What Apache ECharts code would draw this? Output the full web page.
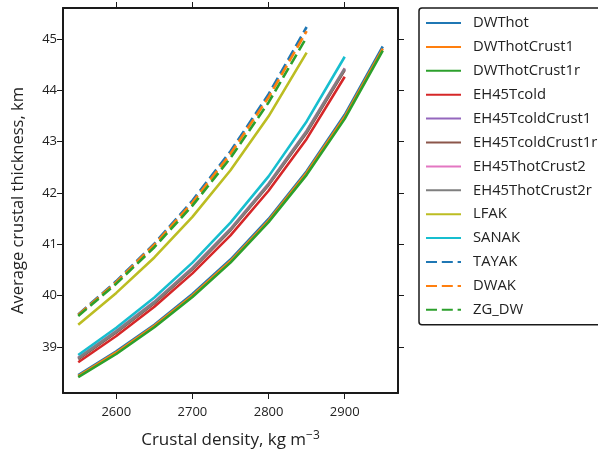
<!DOCTYPE html>
<html>
<head>
<meta charset="utf-8">
<script src="https://cdn.jsdelivr.net/npm/echarts@6/dist/echarts.min.js"></script>
<style>html,body{margin:0;padding:0;background:#fff}#c{width:598px;height:454px}</style>
</head>
<body>
<div id="c"></div>
<script>
// ---- data ----
var dens9 = [2550, 2600, 2650, 2700, 2750, 2800, 2850, 2900, 2950];
var dens8 = [2550, 2600, 2650, 2700, 2750, 2800, 2850, 2900];
var dens7 = [2550, 2600, 2650, 2700, 2750, 2800, 2850];

var DWThot          = [38.45, 38.91, 39.43, 40.03, 40.70, 41.49, 42.42, 43.52, 44.85];
var DWThotCrust1    = [38.43, 38.89, 39.41, 40.00, 40.67, 41.46, 42.39, 43.48, 44.81];
var DWThotCrust1r   = [38.41, 38.86, 39.38, 39.97, 40.64, 41.43, 42.35, 43.44, 44.77];
var EH45Tcold       = [38.70, 39.21, 39.78, 40.43, 41.17, 42.04, 43.05, 44.26];
var EH45TcoldCrust1 = [38.77, 39.29, 39.86, 40.52, 41.28, 42.16, 43.18, 44.40];
var EH45TcoldCrust1r= [38.76, 39.28, 39.85, 40.51, 41.27, 42.15, 43.17, 44.39];
var EH45ThotCrust2  = [38.79, 39.31, 39.88, 40.54, 41.30, 42.18, 43.21, 44.43];
var EH45ThotCrust2r = [38.78, 39.30, 39.87, 40.53, 41.29, 42.17, 43.20, 44.42];
var LFAK            = [39.43, 40.05, 40.74, 41.53, 42.44, 43.49, 44.73];
var SANAK           = [38.84, 39.37, 39.96, 40.64, 41.42, 42.32, 43.39, 44.65];
var TAYAK           = [39.63, 40.28, 41.01, 41.85, 42.81, 43.92, 45.23];
var DWAK            = [39.62, 40.26, 40.99, 41.81, 42.76, 43.86, 45.15];
var ZG_DW           = [39.60, 40.23, 40.94, 41.75, 42.68, 43.76, 45.03];

var xTicks = [2600, 2700, 2800, 2900];
var yTicks = [39, 40, 41, 42, 43, 44, 45];

var seriesNames = ['DWThot','DWThotCrust1','DWThotCrust1r','EH45Tcold','EH45TcoldCrust1',
  'EH45TcoldCrust1r','EH45ThotCrust2','EH45ThotCrust2r','LFAK','SANAK','TAYAK','DWAK','ZG_DW'];
var seriesVals = [DWThot, DWThotCrust1, DWThotCrust1r, EH45Tcold, EH45TcoldCrust1,
  EH45TcoldCrust1r, EH45ThotCrust2, EH45ThotCrust2r, LFAK, SANAK, TAYAK, DWAK, ZG_DW];
var seriesX = [dens9, dens9, dens9, dens8, dens8, dens8, dens8, dens8, dens7, dens8, dens7, dens7, dens7];
var colors = ['#1f77b4','#ff7f0e','#2ca02c','#d62728','#9467bd','#8c564b','#e377c2','#7f7f7f',
  '#bcbd22','#17becf','#1f77b4','#ff7f0e','#2ca02c'];
var dashed = [false,false,false,false,false,false,false,false,false,false,true,true,true];

var FONT = 'Open Sans';
var xMin = 2530, xMax = 2970, yMin = 38.1, yMax = 45.6;

function pairs(xs, ys) { return ys.map(function (v, i) { return [xs[i], v]; }); }

var series = seriesNames.map(function (n, i) {
  return {
    name: n, type: 'line', data: pairs(seriesX[i], seriesVals[i]),
    showSymbol: false, symbol: 'none', animation: false, smooth: false,
    lineStyle: { color: colors[i], width: 2.6, type: dashed[i] ? [11, 4.8] : 'solid' },
    itemStyle: { color: colors[i] }
  };
});

function axisCommon(min, max, ticks, showLabel, margin) {
  return {
    type: 'value', min: min, max: max, scale: true,
    axisLine: { show: true, onZero: false, lineStyle: { color: '#1a1a1a', width: 2 } },
    axisTick: { show: true, inside: false, length: 6, customValues: ticks, lineStyle: { color: '#1a1a1a', width: 1 } },
    axisLabel: { show: showLabel, customValues: ticks, color: '#222', fontFamily: FONT, fontSize: 13, margin: margin,
      formatter: function (v) { return String(v); } },
    splitLine: { show: false }
  };
}

var xb = axisCommon(xMin, xMax, xTicks, true, 13);
xb.position = 'bottom';
xb.name = 'Crustal density, kg m{sup|\u22123}';
xb.nameLocation = 'middle';
xb.nameGap = 37;
xb.nameTextStyle = { color: '#222', fontFamily: FONT, fontSize: 17,
  rich: { sup: { fontSize: 12, fontFamily: FONT, color: '#222', padding: [0, 0, 9, 0] } } };
var xt = axisCommon(xMin, xMax, xTicks, false, 6);
xt.position = 'top';

var yl = axisCommon(yMin, yMax, yTicks, true, 6);
yl.position = 'left';
yl.name = 'Average crustal thickness, km';
yl.nameLocation = 'middle';
yl.nameGap = 36;
yl.nameTextStyle = { color: '#222', fontFamily: FONT, fontSize: 16.5 };
var yr = axisCommon(yMin, yMax, yTicks, false, 6);
yr.position = 'right';

var chart = echarts.init(document.getElementById('c'), null, { renderer: 'canvas' });
chart.setOption({
  backgroundColor: '#fff',
  animation: false,
  color: colors,
  grid: { left: 63, right: 200, top: 8, bottom: 57, containLabel: false },
  xAxis: [xb, xt],
  yAxis: [yl, yr],
  legend: {
    orient: 'vertical', left: 419, top: 8,
    padding: [7, 40, 7, 6],
    itemWidth: 35, itemHeight: 16, itemGap: 7.9,
    borderColor: '#1a1a1a', borderWidth: 1.5, borderRadius: 3,
    backgroundColor: '#fff',
    itemStyle: { opacity: 0 },
    textStyle: { color: '#222', fontFamily: FONT, fontSize: 14.8, lineHeight: 16, padding: [0, 0, 0, 7] }
  },
  series: series
});
</script>
</body>
</html>
